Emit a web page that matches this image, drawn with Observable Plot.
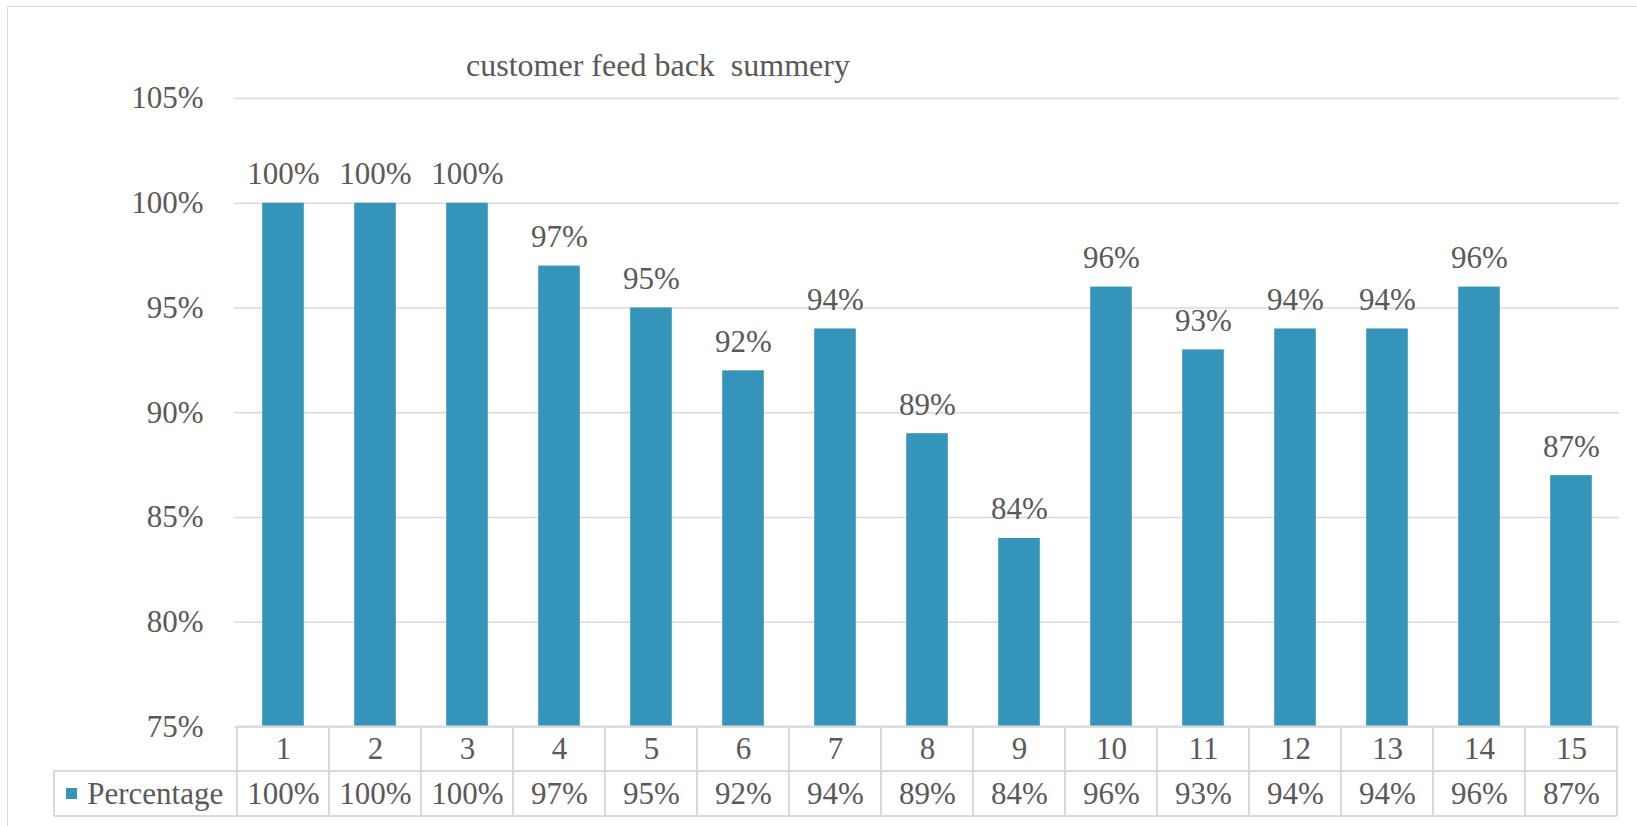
<!DOCTYPE html>
<html>
<head>
<meta charset="utf-8">
<script src="https://cdn.jsdelivr.net/npm/d3@7"></script>
<script src="https://cdn.jsdelivr.net/npm/@observablehq/plot@0.6"></script>
<style>
  html, body { margin: 0; padding: 0; background: #fff; }
  #wrap { position: relative; width: 1637px; height: 826px; overflow: hidden; background: #fff; }
  #border { position: absolute; left: 7px; top: 6px; width: 1700px; height: 900px; border: 1.5px solid #d9d9d9; box-sizing: border-box; }
  #title { position: absolute; left: 0; top: 49px; width: 1316px; text-align: center; white-space: pre;
           font-family: "Liberation Serif", "Times New Roman", serif; font-size: 32px; line-height: 32px; color: #595959; }
  #chart { position: absolute; left: 0; top: 0; }
</style>
</head>
<body>
<div id="wrap">
  <div id="border"></div>
  <div id="chart"></div>
  <div id="title"></div>
</div>
<script>
const chartTitle = "customer feed back  summery";
const seriesName = "Percentage";
const categories = ["1","2","3","4","5","6","7","8","9","10","11","12","13","14","15"];
const percentages = [1.00, 1.00, 1.00, 0.97, 0.95, 0.92, 0.94, 0.89, 0.84, 0.96, 0.93, 0.94, 0.94, 0.96, 0.87];
const yTicks = [0.75, 0.80, 0.85, 0.90, 0.95, 1.00, 1.05];

const barColor = "#3494ba";
const textColor = "#595959";
const lineColor = "#d9d9d9";
const fmt = d3.format(".0%");

const data = categories.map((c, i) => ({cat: c, value: percentages[i]}));

document.getElementById("title").textContent = chartTitle;

function tableGrid(index, scales, values, dims) {
  const {height, marginLeft, marginBottom} = dims;
  const n = categories.length;
  const xs = categories.map(c => scales.x(c));
  const step = (xs[n - 1] - xs[0]) / (n - 1);
  let start = xs[0];
  if (Math.abs(start - marginLeft - step / 2) < 1) start -= step / 2;
  const y0 = height - marginBottom;
  const y1 = y0 + 44.5;
  const y2 = y1 + 45;
  const legendLeft = 54;
  const right = start + n * step;
  const g = d3.create("svg:g").attr("stroke", lineColor).attr("stroke-width", 2).attr("fill", "none");
  g.append("line").attr("x1", start).attr("x2", right).attr("y1", y0).attr("y2", y0);
  g.append("line").attr("x1", legendLeft).attr("x2", right).attr("y1", y1).attr("y2", y1);
  g.append("line").attr("x1", legendLeft).attr("x2", right).attr("y1", y2).attr("y2", y2);
  for (let i = 0; i <= n; i++) {
    const xx = start + i * step;
    g.append("line").attr("x1", xx).attr("x2", xx).attr("y1", y0).attr("y2", y2);
  }
  g.append("line").attr("x1", legendLeft).attr("x2", legendLeft).attr("y1", y1).attr("y2", y2);
  g.append("rect").attr("x", 66).attr("y", (y1 + y2) / 2 - 5.5).attr("width", 11).attr("height", 11)
    .attr("fill", barColor).attr("stroke", "none");
  return g.node();
}

const chart = Plot.plot({
  width: 1637,
  height: 826,
  marginLeft: 234,
  marginRight: 18,
  marginTop: 98,
  marginBottom: 99.5,
  style: {fontFamily: "'Liberation Serif', 'Times New Roman', serif", fontSize: "31px", color: textColor, background: "transparent", overflow: "visible"},
  x: {type: "band", domain: categories, padding: 0, label: null},
  y: {domain: [yTicks[0], yTicks[yTicks.length - 1]], label: null},
  marks: [
    Plot.gridY(yTicks, {stroke: lineColor, strokeOpacity: 1, strokeWidth: 1.5}),
    Plot.axisY(yTicks, {tickFormat: fmt, tickSize: 0, tickPadding: 31, fontSize: 31, fill: textColor, label: null}),
    Plot.barY(data, {x: "cat", y1: yTicks[0], y2: "value", fill: barColor, insetLeft: 25.2, insetRight: 25.2}),
    Plot.text(data, {x: "cat", y: "value", text: d => fmt(d.value), lineAnchor: "bottom", dy: -19, fontSize: 31, fill: textColor}),
    Plot.axisX({tickSize: 0, tickPadding: 22, lineAnchor: "middle", fontSize: 31, fill: textColor, label: null}),
    Plot.text(data, {x: "cat", text: d => fmt(d.value), frameAnchor: "bottom", dy: 67, lineAnchor: "middle", fontSize: 31, fill: textColor}),
    Plot.text([seriesName], {text: d => d, frameAnchor: "bottom-left", dx: -147.3, dy: 67, textAnchor: "start", lineAnchor: "middle", fontSize: 31, fill: textColor}),
    tableGrid
  ]
});
document.getElementById("chart").appendChild(chart);
</script>
</body>
</html>
